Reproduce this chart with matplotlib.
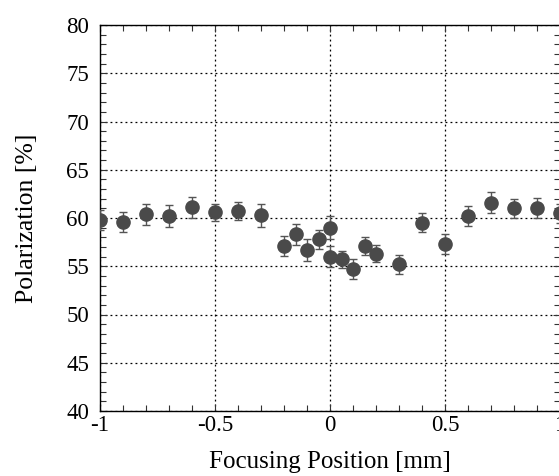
import matplotlib
matplotlib.use("Agg")
import matplotlib.pyplot as plt
from matplotlib.ticker import MultipleLocator

positions = [-1.0, -0.9, -0.8, -0.7, -0.6, -0.5, -0.4, -0.3, -0.2, -0.15, -0.1, -0.05,
             0.0, 0.0, 0.05, 0.1, 0.15, 0.2, 0.3, 0.4, 0.5, 0.6, 0.7, 0.8, 0.9, 1.0]
polarization = [59.8, 59.6, 60.4, 60.2, 61.1, 60.6, 60.7, 60.3, 57.1, 58.3, 56.7, 57.8,
                59.0, 56.0, 55.7, 54.7, 57.1, 56.3, 55.2, 59.5, 57.3, 60.2, 61.6, 61.0, 61.0, 60.5]
errors = [1.0, 1.0, 1.1, 1.1, 1.1, 0.9, 0.95, 1.2, 1.0, 1.1, 1.15, 1.0,
          1.2, 1.1, 0.85, 1.0, 0.9, 0.9, 1.0, 1.0, 1.0, 1.0, 1.1, 1.0, 1.05, 1.0]
x_tick_labels = ['-1', '-0.5', '0', '0.5', '1']

plt.rcParams['font.family'] = ['Liberation Serif', 'DejaVu Serif']

fig = plt.figure(figsize=(5.59, 4.76), dpi=100)
ax = fig.add_axes([100/559, (476-411)/476, 460/559, 386/476])

ax.errorbar(positions, polarization, yerr=errors, fmt='o', color='#4a4a4a',
            ecolor='#555555', elinewidth=1.0, capsize=3, capthick=1.0,
            markersize=9.5, zorder=3)

ax.set_xlim(-1, 1)
ax.set_ylim(40, 80)
ax.xaxis.set_minor_locator(MultipleLocator(0.1))
ax.yaxis.set_major_locator(MultipleLocator(5))
ax.yaxis.set_minor_locator(MultipleLocator(1))
ax.set_xticks([-1, -0.5, 0, 0.5, 1])
ax.set_xticklabels(x_tick_labels)

ax.grid(True, which='major', color='black', linestyle=(0, (1.5, 2.5)), linewidth=0.9)
ax.tick_params(which='both', direction='in', top=True, right=True, labelsize=16.5,
               width=0.8, color='#333333')
ax.tick_params(which='major', length=5)
ax.tick_params(which='minor', length=4)
ax.tick_params(axis='x', pad=3)
ax.tick_params(axis='y', pad=8)
for s in ax.spines.values():
    s.set_linewidth(1.0)

ax.set_xlabel('Focusing Position [mm]', fontsize=18, labelpad=11)
ax.set_ylabel('Polarization [%]', fontsize=18.5, labelpad=20)

fig.savefig('out.png', dpi=100)
